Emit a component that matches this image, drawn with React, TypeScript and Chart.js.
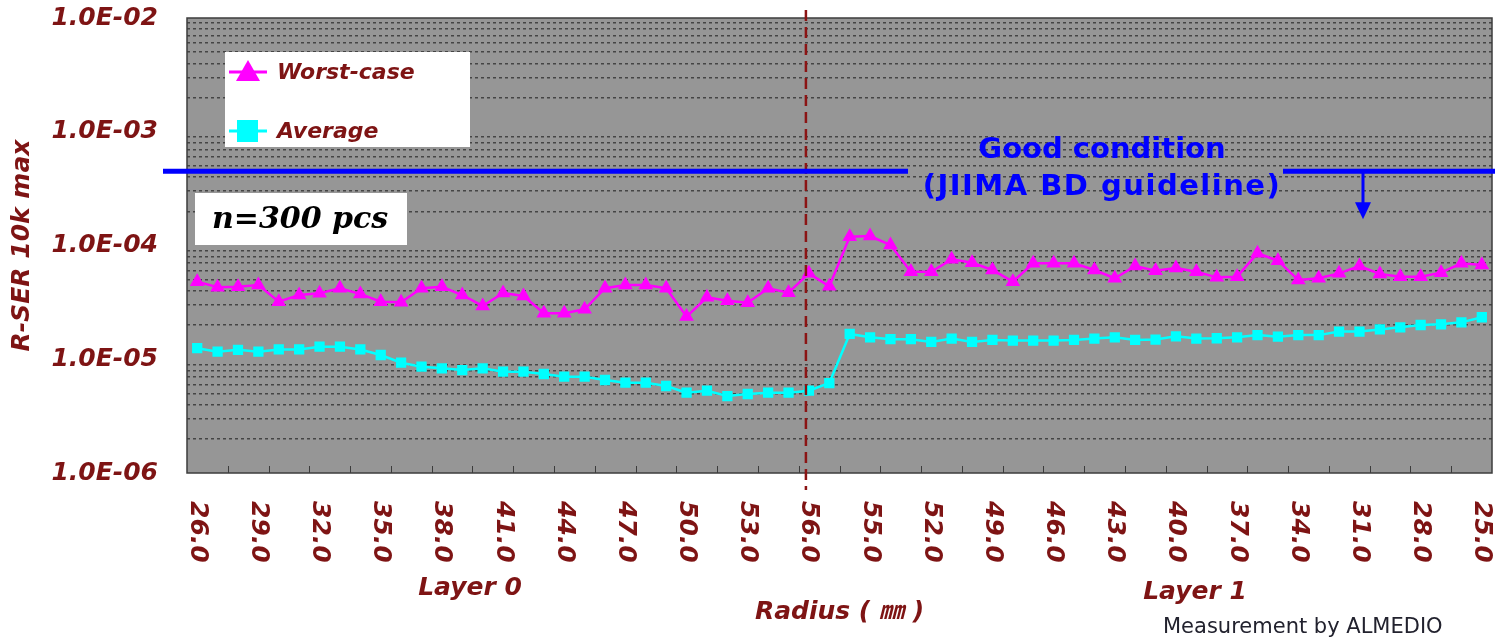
import React, { useEffect, useRef } from 'react';
import { Chart, registerables } from 'chart.js';

Chart.register(...registerables);

// Radius positions (mm) along the x axis
const LAYER0_RADIUS = [26, 27, 28, 29, 30, 31, 32, 33, 34, 35, 36, 37, 38, 39, 40, 41, 42, 43, 44, 45, 46, 47, 48, 49, 50, 51, 52, 53, 54, 55, 56];
const LAYER1_RADIUS = [57, 56, 55, 54, 53, 52, 51, 50, 49, 48, 47, 46, 45, 44, 43, 42, 41, 40, 39, 38, 37, 36, 35, 34, 33, 32, 31, 30, 29, 28, 27, 26, 25];

const WORST_CASE = [
  4.81e-5, 4.29e-5, 4.34e-5, 4.49e-5, 3.21e-5, 3.67e-5, 3.8e-5, 4.21e-5, 3.75e-5, 3.21e-5,
  3.17e-5, 4.21e-5, 4.34e-5, 3.67e-5, 2.94e-5, 3.82e-5, 3.6e-5, 2.54e-5, 2.54e-5, 2.75e-5,
  4.21e-5, 4.49e-5, 4.49e-5, 4.21e-5, 2.37e-5, 3.5e-5, 3.27e-5, 3.14e-5, 4.21e-5, 3.85e-5,
  5.69e-5, 4.38e-5, 1.195e-4, 1.21e-4, 1.01e-4, 5.88e-5, 5.88e-5, 7.56e-5, 7.06e-5, 6.09e-5,
  4.81e-5, 6.97e-5, 6.97e-5, 6.97e-5, 6.09e-5, 5.15e-5, 6.6e-5, 6.0e-5, 6.34e-5, 5.88e-5,
  5.25e-5, 5.32e-5, 8.54e-5, 7.35e-5, 4.97e-5, 5.15e-5, 5.69e-5, 6.6e-5, 5.62e-5, 5.32e-5,
  5.32e-5, 5.77e-5, 6.97e-5, 6.74e-5,
];

const AVERAGE = [
  1.25e-5, 1.165e-5, 1.21e-5, 1.165e-5, 1.22e-5, 1.22e-5, 1.29e-5, 1.29e-5, 1.22e-5, 1.09e-5,
  9.33e-6, 8.6e-6, 8.32e-6, 8.04e-6, 8.32e-6, 7.77e-6, 7.77e-6, 7.42e-6, 7.02e-6, 7.02e-6,
  6.57e-6, 6.22e-6, 6.22e-6, 5.82e-6, 5.08e-6, 5.29e-6, 4.75e-6, 4.95e-6, 5.08e-6, 5.08e-6,
  5.29e-6, 6.18e-6, 1.67e-5, 1.56e-5, 1.5e-5, 1.5e-5, 1.42e-5, 1.52e-5, 1.42e-5, 1.48e-5,
  1.46e-5, 1.46e-5, 1.46e-5, 1.48e-5, 1.52e-5, 1.56e-5, 1.48e-5, 1.49e-5, 1.59e-5, 1.52e-5,
  1.53e-5, 1.56e-5, 1.63e-5, 1.58e-5, 1.63e-5, 1.63e-5, 1.75e-5, 1.75e-5, 1.83e-5, 1.91e-5,
  2.0e-5, 2.03e-5, 2.11e-5, 2.34e-5,
];

const GUIDELINE = 4.5e-4;
const Y_DECADES = [1e-6, 1e-5, 1e-4, 1e-3, 1e-2];
const X_LABEL_STEP = 3;
const X_TICK_STEP = 2;
const LAYER_BOUNDARY_INDEX = LAYER0_RADIUS.length - 1;

const SERIES_NAMES = ['Worst-case', 'Average'];
const SERIES_COLORS = ['#FF00FF', '#00FFFF'];

const TEXT_RED = '#7e1414';
const FONT_FAMILY = "'DejaVu Sans', 'Noto Sans CJK JP', sans-serif";

const X_LABELS = [...LAYER0_RADIUS, ...LAYER1_RADIUS].map((v) => v.toFixed(1));

function yGridValues(): number[] {
  const vals: number[] = [];
  for (let d = 0; d < Y_DECADES.length - 1; d++) {
    for (let k = 1; k <= 9; k++) vals.push(parseFloat((Y_DECADES[d] * k).toPrecision(3)));
  }
  vals.push(Y_DECADES[Y_DECADES.length - 1]);
  return vals;
}

function isDecade(v: number): boolean {
  const l = Math.log10(v);
  return Math.abs(l - Math.round(l)) < 1e-6;
}

function fmtDecade(v: number): string {
  const e = Math.round(Math.log10(v));
  const sign = e < 0 ? '-' : '+';
  return `1.0E${sign}${String(Math.abs(e)).padStart(2, '0')}`;
}

const decorPlugin = {
  id: 'decor',
  beforeDraw(chart: any) {
    const { ctx, chartArea: a } = chart;
    ctx.save();
    ctx.fillStyle = '#969696';
    ctx.fillRect(a.left, a.top, a.right - a.left, a.bottom - a.top);
    ctx.restore();
  },
  afterDraw(chart: any) {
    const { ctx, chartArea: a } = chart;
    const xs = chart.scales.x;
    const ys = chart.scales.y;
    const step = xs.getPixelForValue(1) - xs.getPixelForValue(0);
    ctx.save();

    // plot frame
    ctx.strokeStyle = '#3c3c3c';
    ctx.lineWidth = 1.5;
    ctx.strokeRect(a.left, a.top, a.right - a.left, a.bottom - a.top);

    // x tick marks (between categories, every 2)
    ctx.lineWidth = 1;
    ctx.beginPath();
    for (let k = X_TICK_STEP; k < X_LABELS.length; k += X_TICK_STEP) {
      const x = Math.round(xs.getPixelForValue(k) - step / 2) + 0.5;
      ctx.moveTo(x, a.bottom - 7);
      ctx.lineTo(x, a.bottom);
    }
    ctx.stroke();

    // x tick labels rotated clockwise
    ctx.fillStyle = TEXT_RED;
    ctx.font = `italic bold 25px ${FONT_FAMILY}`;
    ctx.textAlign = 'left';
    ctx.textBaseline = 'middle';
    for (let i = 0; i < X_LABELS.length; i += X_LABEL_STEP) {
      const x = xs.getPixelForValue(i);
      ctx.save();
      ctx.translate(x, a.bottom + 28);
      ctx.rotate(Math.PI / 2);
      ctx.fillText(X_LABELS[i], 0, 0);
      ctx.restore();
    }

    // layer labels
    ctx.textAlign = 'center';
    ctx.fillText('Layer 0', 470, 588);
    ctx.fillText('Layer 1', 1195, 592);

    // layer boundary dashed line
    const bx = xs.getPixelForValue(LAYER_BOUNDARY_INDEX) - 3;
    ctx.strokeStyle = '#8b1414';
    ctx.lineWidth = 2.5;
    ctx.setLineDash([11, 6]);
    ctx.beginPath();
    ctx.moveTo(bx, 10);
    ctx.lineTo(bx, 490);
    ctx.stroke();
    ctx.setLineDash([]);

    // guideline
    const gy = ys.getPixelForValue(GUIDELINE);
    ctx.strokeStyle = '#0000ff';
    ctx.lineWidth = 5;
    ctx.beginPath();
    ctx.moveTo(163, gy);
    ctx.lineTo(908, gy);
    ctx.moveTo(1283, gy);
    ctx.lineTo(1495, gy);
    ctx.stroke();
    ctx.lineWidth = 3;
    ctx.beginPath();
    ctx.moveTo(1363, gy);
    ctx.lineTo(1363, gy + 34);
    ctx.stroke();
    ctx.fillStyle = '#0000ff';
    ctx.beginPath();
    ctx.moveTo(1355, gy + 31);
    ctx.lineTo(1371, gy + 31);
    ctx.lineTo(1363, gy + 48);
    ctx.closePath();
    ctx.fill();

    ctx.font = `bold 29px ${FONT_FAMILY}`;
    ctx.textAlign = 'center';
    ctx.textBaseline = 'middle';
    ctx.fillText('Good condition', 1102, 150);
    ctx.save();
    (ctx as any).letterSpacing = '1.5px';
    ctx.fillText('(JIIMA BD guideline)', 1102, 187);
    ctx.restore();

    // legend box
    ctx.fillStyle = '#ffffff';
    ctx.fillRect(225, 52, 245, 95);
    ctx.save();
    ctx.beginPath();
    ctx.rect(225, 52, 245, 95);
    ctx.clip();
    const legendY = [72, 131];
    for (let s = 0; s < 2; s++) {
      const y = legendY[s];
      ctx.strokeStyle = SERIES_COLORS[s];
      ctx.fillStyle = SERIES_COLORS[s];
      ctx.lineWidth = 3;
      ctx.beginPath();
      ctx.moveTo(229, y);
      ctx.lineTo(267, y);
      ctx.stroke();
      ctx.beginPath();
      if (s === 0) {
        ctx.moveTo(248, y - 12);
        ctx.lineTo(260, y + 9);
        ctx.lineTo(236, y + 9);
        ctx.closePath();
      } else {
        ctx.rect(237, y - 11, 21, 22);
      }
      ctx.fill();
      ctx.fillStyle = TEXT_RED;
      ctx.font = `italic bold 22px ${FONT_FAMILY}`;
      ctx.textAlign = 'left';
      ctx.textBaseline = 'middle';
      ctx.fillText(SERIES_NAMES[s], 277, y + 1);
    }
    ctx.restore();

    // sample count box
    ctx.fillStyle = '#ffffff';
    ctx.fillRect(195, 193, 212, 52);
    ctx.fillStyle = '#000000';
    ctx.font = "italic bold 30px 'DejaVu Serif', serif";
    ctx.textAlign = 'left';
    ctx.textBaseline = 'middle';
    ctx.fillText('n=300 pcs', 212, 220);

    // credit
    ctx.fillStyle = '#22222e';
    ctx.font = `21px ${FONT_FAMILY}`;
    ctx.textAlign = 'left';
    ctx.fillText('Measurement by ALMEDIO', 1163, 628);

    ctx.restore();
  },
};

export default function App() {
  const ref = useRef<HTMLCanvasElement | null>(null);

  useEffect(() => {
    if (!ref.current) return;
    const gridVals = yGridValues();
    const chart = new Chart(ref.current, {
      type: 'line',
      data: {
        labels: X_LABELS,
        datasets: [
          {
            label: SERIES_NAMES[0],
            data: WORST_CASE,
            borderColor: SERIES_COLORS[0],
            backgroundColor: SERIES_COLORS[0],
            pointBackgroundColor: SERIES_COLORS[0],
            pointBorderColor: SERIES_COLORS[0],
            pointStyle: 'triangle',
            pointRadius: 6,
            borderWidth: 2.5,
            tension: 0,
          },
          {
            label: SERIES_NAMES[1],
            data: AVERAGE,
            borderColor: SERIES_COLORS[1],
            backgroundColor: SERIES_COLORS[1],
            pointBackgroundColor: SERIES_COLORS[1],
            pointBorderColor: SERIES_COLORS[1],
            pointStyle: 'rect',
            pointRadius: 5.5,
            borderWidth: 2.5,
            tension: 0,
          },
        ],
      },
      options: {
        responsive: false,
        animation: false,
        layout: { autoPadding: false, padding: { top: 18, right: 3, left: 0, bottom: 0 } },
        plugins: {
          legend: { display: false },
          tooltip: { enabled: false },
        },
        scales: {
          x: {
            type: 'category',
            offset: true,
            grid: { display: false, drawTicks: false },
            border: { display: false },
            ticks: { display: false },
            title: {
              display: true,
              text: 'Radius ( ㎜ )',
              color: TEXT_RED,
              font: { family: FONT_FAMILY, size: 25, weight: 'bold', style: 'italic' },
              padding: { top: 0, bottom: 12 },
            },
            afterFit: (scale: any) => {
              scale.height = 166;
              scale.paddingLeft = 0;
              scale.paddingRight = 0;
            },
          },
          y: {
            type: 'logarithmic',
            min: Y_DECADES[0],
            max: Y_DECADES[Y_DECADES.length - 1],
            afterBuildTicks: (scale: any) => {
              scale.ticks = gridVals.map((v) => ({ value: v }));
            },
            afterFit: (scale: any) => {
              scale.width = 187;
              scale.paddingTop = 0;
              scale.paddingBottom = 0;
            },
            grid: {
              drawTicks: false,
              lineWidth: 1.5,
              color: (c: any) => (c.tick && isDecade(c.tick.value) ? 'rgba(0,0,0,0)' : '#454545'),
            },
            border: { display: false, dash: [3, 3] },
            ticks: {
              autoSkip: false,
              padding: 29,
              color: TEXT_RED,
              font: { family: FONT_FAMILY, size: 25, weight: 'bold', style: 'italic' },
              callback: (value: any) => (isDecade(Number(value)) ? fmtDecade(Number(value)) : ''),
            },
            title: {
              display: true,
              text: 'R-SER 10k max',
              color: TEXT_RED,
              font: { family: FONT_FAMILY, size: 25, weight: 'bold', style: 'italic' },
              padding: { top: 7, bottom: 0 },
            },
          },
        },
      },
      plugins: [decorPlugin],
    } as any);
    return () => chart.destroy();
  }, []);

  return (
    <div style={{ position: 'absolute', left: 0, top: 0, width: 1495, height: 639, background: '#ffffff' }}>
      <canvas ref={ref} width={1495} height={639} />
    </div>
  );
}
